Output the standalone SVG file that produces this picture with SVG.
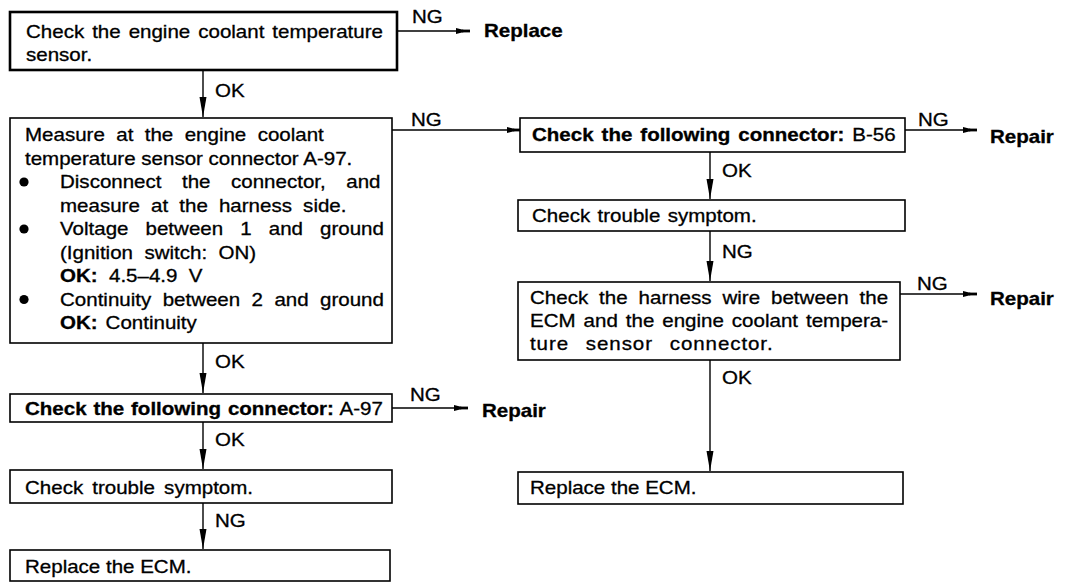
<svg xmlns="http://www.w3.org/2000/svg" width="1072" height="588" viewBox="0 0 1072 588">
<style>
.t{font-family:"Liberation Sans",Arial,Helvetica,sans-serif;font-size:18px;fill:#000;stroke:#000;stroke-width:0.3}
.b{font-weight:bold}
.box{fill:#fff;stroke:#000;stroke-width:1.6}
.thick{stroke-width:2.6}
.ln{stroke:#000;stroke-width:1.4;fill:none}
</style>
<defs>
<marker id="av" viewBox="0 0 20 8" refX="20" refY="4" markerWidth="20" markerHeight="8" markerUnits="userSpaceOnUse" orient="auto">
<path d="M0,0.5 L20,4 L0,7.5 Z" fill="#000"/>
</marker>
<marker id="ah" viewBox="0 0 14 8" refX="12" refY="4" markerWidth="14" markerHeight="8" markerUnits="userSpaceOnUse" orient="auto">
<path d="M0,1 L12,4 L0,7 Z" fill="#000"/>
<rect x="6" y="2.6" width="8" height="2.8" fill="#000"/>
</marker>
</defs>
<rect width="1072" height="588" fill="#fff"/>

<g id="connectors">
<line class="ln" x1="397" y1="31" x2="468" y2="31" marker-end="url(#ah)"/>
<line class="ln" x1="203" y1="70" x2="203" y2="117" marker-end="url(#av)"/>
<line class="ln" x1="392" y1="130" x2="519" y2="130" marker-end="url(#ah)"/>
<line class="ln" x1="905" y1="130" x2="975" y2="130" marker-end="url(#ah)"/>
<line class="ln" x1="710" y1="152" x2="710" y2="199" marker-end="url(#av)"/>
<line class="ln" x1="710" y1="231" x2="710" y2="281" marker-end="url(#av)"/>
<line class="ln" x1="900" y1="294" x2="975" y2="294" marker-end="url(#ah)"/>
<line class="ln" x1="710" y1="360" x2="710" y2="471" marker-end="url(#av)"/>
<line class="ln" x1="203" y1="343" x2="203" y2="393" marker-end="url(#av)"/>
<line class="ln" x1="392" y1="408" x2="466" y2="408" marker-end="url(#ah)"/>
<line class="ln" x1="203" y1="422" x2="203" y2="469" marker-end="url(#av)"/>
<line class="ln" x1="203" y1="503" x2="203" y2="549" marker-end="url(#av)"/>
<text class="t" transform="translate(412 23) scale(1.14 1)">NG</text>
<text class="t" transform="translate(215 97) scale(1.14 1)">OK</text>
<text class="t" transform="translate(411 126) scale(1.14 1)">NG</text>
<text class="t" transform="translate(918 126) scale(1.14 1)">NG</text>
<text class="t" transform="translate(722 177) scale(1.14 1)">OK</text>
<text class="t" transform="translate(722 258) scale(1.14 1)">NG</text>
<text class="t" transform="translate(917 290) scale(1.14 1)">NG</text>
<text class="t" transform="translate(722 384) scale(1.14 1)">OK</text>
<text class="t" transform="translate(215 368) scale(1.14 1)">OK</text>
<text class="t" transform="translate(410 401) scale(1.14 1)">NG</text>
<text class="t" transform="translate(215 446) scale(1.14 1)">OK</text>
<text class="t" transform="translate(215 527) scale(1.14 1)">NG</text>
</g>

<g id="n1">
<rect class="box thick" x="10" y="12" width="387" height="58"/>
<text class="t" transform="translate(26 38) scale(1.14 1)" word-spacing="2">Check the engine coolant temperature</text>
<text class="t" transform="translate(26 61) scale(1.14 1)">sensor.</text>
</g>
<g id="replace1">
<text class="t b" transform="translate(484 37) scale(1.14 1)">Replace</text>
</g>

<g id="n2">
<rect class="box" x="10" y="118" width="382" height="225"/>
<text class="t" transform="translate(25 141) scale(1.14 1)" word-spacing="5">Measure at the engine coolant</text>
<text class="t" transform="translate(25 164.5) scale(1.14 1)">temperature sensor connector A-97.</text>
<circle cx="24" cy="182" r="4.6" fill="#000"/>
<text class="t" transform="translate(60 188) scale(1.14 1)" word-spacing="13">Disconnect the connector, and</text>
<text class="t" transform="translate(60 211.5) scale(1.14 1)" word-spacing="4.8">measure at the harness side.</text>
<circle cx="24" cy="229" r="4.6" fill="#000"/>
<text class="t" transform="translate(60 235) scale(1.14 1)" word-spacing="10">Voltage between 1 and ground</text>
<text class="t" transform="translate(60 258.5) scale(1.14 1)" word-spacing="5">(Ignition switch: ON)</text>
<text class="t" transform="translate(60 282) scale(1.14 1)" word-spacing="5"><tspan class="b">OK:</tspan> 4.5–4.9 V</text>
<circle cx="24" cy="299.5" r="4.6" fill="#000"/>
<text class="t" transform="translate(60 305.5) scale(1.14 1)" word-spacing="5">Continuity between 2 and ground</text>
<text class="t" transform="translate(60 329) scale(1.14 1)" word-spacing="2"><tspan class="b">OK:</tspan> Continuity</text>
</g>

<g id="n3">
<rect class="box" x="520" y="118" width="385" height="34"/>
<text class="t" transform="translate(532 141) scale(1.14 1)" word-spacing="2"><tspan class="b">Check the following connector:</tspan> B-56</text>
</g>
<g id="repair1">
<text class="t b" transform="translate(990 143) scale(1.14 1)">Repair</text>
</g>

<g id="n4">
<rect class="box" x="518" y="200" width="387" height="31"/>
<text class="t" transform="translate(532 222) scale(1.14 1)" word-spacing="1.5">Check trouble symptom.</text>
</g>

<g id="n5">
<rect class="box" x="518" y="282" width="382" height="78"/>
<text class="t" transform="translate(530 304) scale(1.14 1)" word-spacing="4.6">Check the harness wire between the</text>
<text class="t" transform="translate(530 327) scale(1.14 1)" word-spacing="2">ECM and the engine coolant tempera-</text>
<text class="t" transform="translate(530 350) scale(1.14 1)" word-spacing="9" letter-spacing="0.8">ture sensor connector.</text>
</g>
<g id="repair2">
<text class="t b" transform="translate(990 305) scale(1.14 1)">Repair</text>
</g>

<g id="n6">
<rect class="box" x="518" y="472" width="385" height="32"/>
<text class="t" transform="translate(530 494) scale(1.14 1)">Replace the ECM.</text>
</g>

<g id="n7">
<rect class="box" x="10" y="394" width="382" height="28"/>
<text class="t" transform="translate(25 415) scale(1.14 1)" word-spacing="1"><tspan class="b">Check the following connector:</tspan> A-97</text>
</g>
<g id="repair3">
<text class="t b" transform="translate(482 417) scale(1.14 1)">Repair</text>
</g>

<g id="n8">
<rect class="box" x="10" y="470" width="382" height="33"/>
<text class="t" transform="translate(25 494) scale(1.14 1)" word-spacing="3">Check trouble symptom.</text>
</g>

<g id="n9">
<rect class="box" x="10" y="550" width="380" height="31"/>
<text class="t" transform="translate(25 573) scale(1.14 1)">Replace the ECM.</text>
</g>
</svg>
